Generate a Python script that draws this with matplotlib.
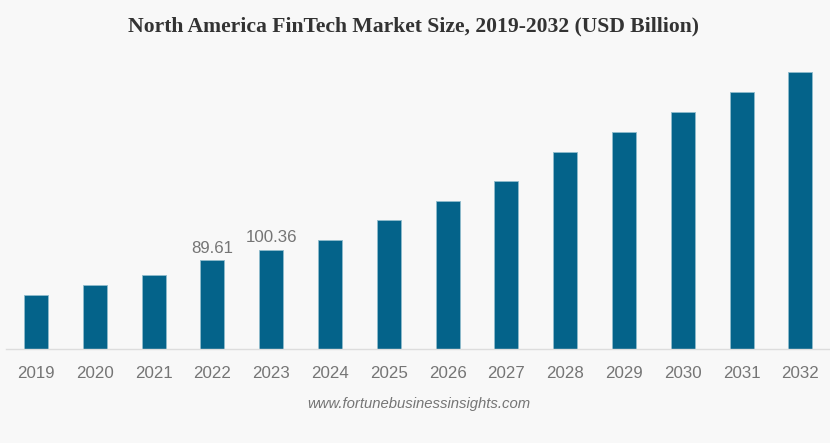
import matplotlib
matplotlib.use('Agg')
import matplotlib.pyplot as plt

# Werte (USD Billion)
years = ['2019', '2020', '2021', '2022', '2023', '2024', '2025', '2026',
         '2027', '2028', '2029', '2030', '2031', '2032']
values = [54.7, 64.8, 74.9, 89.61, 100.36, 110.0, 130.2, 149.8,
          170.0, 199.7, 220.0, 239.8, 260.0, 280.0]
labels = {'2022': '89.61', '2023': '100.36'}

W, H = 830, 443
bg = '#f8f8f8'
bar_color = '#04638a'
text_color = '#757575'

plt.rcParams['font.family'] = ['Liberation Sans', 'DejaVu Sans']

fig = plt.figure(figsize=(W / 100, H / 100), dpi=100, facecolor=bg)

# Achsen in Pixeln des Originals platzieren
left, right, top, bottom = 6, 830, 60, 349
ax = fig.add_axes([left / W, 1 - bottom / H, (right - left) / W, (bottom - top) / H])
ax.set_facecolor(bg)

step = 58.8
px_per_unit = 0.988
ax.set_xlim(-(36 - left) / step, (right - 36) / step)
ax.set_ylim(0, (bottom - top) / px_per_unit)

xs = list(range(len(years)))
ax.bar(xs, values, width=24 / step, color=bar_color, edgecolor='#8fbccd', linewidth=0.6)

for x, year, val in zip(xs, years, values):
    if year in labels:
        ax.annotate(labels[year], (x, val), xytext=(0, 3.3), textcoords='offset points',
                    ha='center', va='bottom', fontsize=12.2, color=text_color)

for s in ['top', 'left', 'right']:
    ax.spines[s].set_visible(False)
ax.spines['bottom'].set_color('#dddddd')
ax.spines['bottom'].set_linewidth(1.0)
ax.set_yticks([])
ax.set_xticks(xs)
ax.set_xticklabels(years, fontsize=12.2, color=text_color)
ax.tick_params(axis='x', length=0, pad=12.4)

fig.text(413.5 / W, 1 - 26 / H, 'North America FinTech Market Size, 2019-2032 (USD Billion)',
         family=['Liberation Serif', 'DejaVu Serif'], fontweight='bold', fontsize=15.55,
         color='#333333', ha='center', va='center')
fig.text(418.5 / W, 1 - 404 / H, 'www.fortunebusinessinsights.com', style='italic',
         fontsize=10.75, color=text_color, ha='center', va='center')

fig.savefig('out.png', dpi=100, facecolor=bg)
